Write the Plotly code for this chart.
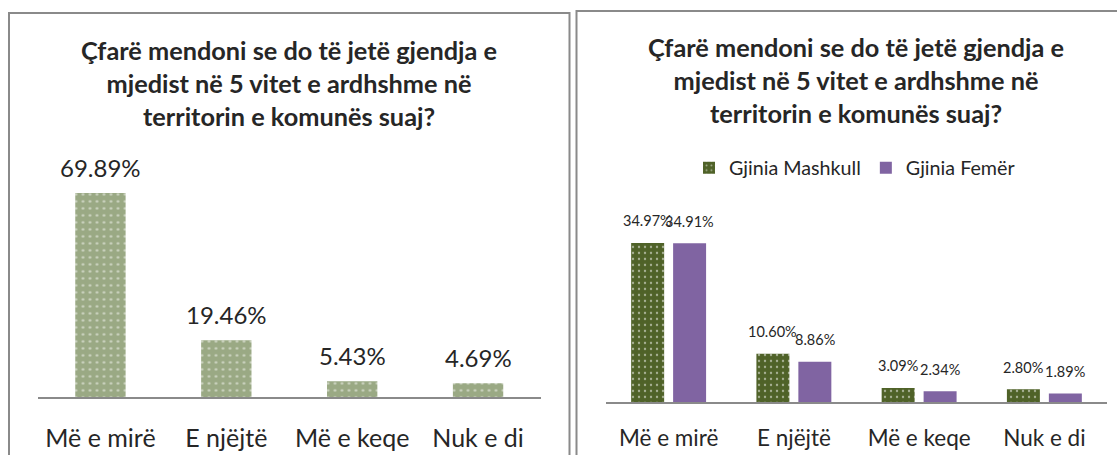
import plotly.graph_objects as go

# ---- data ----
categories = ["Më e mirë", "E njëjtë", "Më e keqe", "Nuk e di"]
total_values = [69.89, 19.46, 5.43, 4.69]
male_values = [34.97, 10.60, 3.09, 2.80]
female_values = [34.91, 8.86, 2.34, 1.89]
series_names = ["Gjinia Mashkull", "Gjinia Femër"]
title_lines = ["Çfarë mendoni se do të jetë gjendja e",
               "mjedist në 5 vitet e ardhshme në",
               "territorin e komunës suaj?"]

# ---- geometry helpers (pixel -> paper) ----
W, H = 1117, 455
def px(x):
    return x / W
def py(y):
    return 1 - y / H

FONT = "Lato, Carlito, Calibri, sans-serif"
TXT = "#262626"
LINE = "#8a8a8a"

fig = go.Figure()
fig.add_trace(go.Bar(
    x=categories, y=total_values, xaxis="x", yaxis="y", width=0.4,
    marker=dict(color="#9aa984", line=dict(width=0),
                pattern=dict(shape=".", fgcolor="#ffffff", size=7, solidity=0.12)),
    showlegend=False, hoverinfo="skip"))
fig.add_trace(go.Bar(
    x=categories, y=male_values, name=series_names[0], xaxis="x2", yaxis="y2",
    marker=dict(color="#4f6228", line=dict(width=0),
                pattern=dict(shape=".", fgcolor="#ffffff", size=6, solidity=0.12)),
    hoverinfo="skip"))
fig.add_trace(go.Bar(
    x=categories, y=female_values, name=series_names[1], xaxis="x2", yaxis="y2",
    marker=dict(color="#8064a2", line=dict(width=0)),
    hoverinfo="skip"))

annotations = []
# data labels, left chart
for c, v in zip(categories, total_values):
    annotations.append(dict(x=c, y=v, xref="x", yref="y", text=f"{v:.2f}%",
                            showarrow=False, yanchor="middle", yshift=26,
                            font=dict(family=FONT, size=24, color=TXT)))
# data labels, right chart
for vals, xs in ((male_values, -21), (female_values, 21)):
    for c, v in zip(categories, vals):
        annotations.append(dict(x=c, y=v, xref="x2", yref="y2", text=f"{v:.2f}%",
                                showarrow=False, yanchor="middle", yshift=22, xshift=xs,
                                font=dict(family=FONT, size=14.5, color=TXT)))
# titles
title_text = "<br>".join(title_lines)
annotations.append(dict(x=px(288.5), y=py(83), xref="paper", yref="paper",
                        text=f"<b>{title_text}</b>", showarrow=False,
                        xanchor="center", yanchor="middle", align="center",
                        font=dict(family=FONT, size=25.3, color=TXT)))
annotations.append(dict(x=px(856), y=py(80), xref="paper", yref="paper",
                        text=f"<b>{title_text}</b>", showarrow=False,
                        xanchor="center", yanchor="middle", align="center",
                        font=dict(family=FONT, size=25.3, color=TXT)))

shapes = [
    dict(type="rect", xref="paper", yref="paper", x0=px(9), x1=px(569.5),
         y0=-0.2, y1=py(13), line=dict(color=LINE, width=2), fillcolor="rgba(0,0,0,0)"),
    dict(type="rect", xref="paper", yref="paper", x0=px(576.5), x1=1.2,
         y0=-0.2, y1=py(11), line=dict(color=LINE, width=2), fillcolor="rgba(0,0,0,0)"),
]

axis_common = dict(type="category", showline=True, linecolor=LINE, linewidth=2,
                   ticks="", showgrid=False, zeroline=False)

fig.update_layout(
    width=W, height=H,
    margin=dict(l=0, r=0, t=0, b=0),
    paper_bgcolor="white", plot_bgcolor="rgba(0,0,0,0)",
    barmode="group", bargap=0.33, bargroupgap=0.214,
    font=dict(family=FONT, color=TXT),
    xaxis=dict(domain=[px(37.5), px(541)], anchor="y",
               tickfont=dict(size=25, color=TXT), ticklabelstandoff=18, **axis_common),
    yaxis=dict(domain=[py(397), py(148.9)], range=[0, 85], anchor="x", visible=False),
    xaxis2=dict(domain=[px(606), px(1107)], anchor="y2",
                tickfont=dict(size=22.5, color=TXT), ticklabelstandoff=15, **axis_common),
    yaxis2=dict(domain=[py(402), py(201.9)], range=[0, 44], anchor="x2", visible=False),
    legend=dict(orientation="h", x=px(855), xanchor="center", y=py(168), yanchor="middle",
                font=dict(family=FONT, size=19.7, color=TXT), bgcolor="rgba(0,0,0,0)",
                itemwidth=30, tracegroupgap=0),
    annotations=annotations,
    shapes=shapes,
    showlegend=True,
)

fig.write_html("out.html",
               config={"displayModeBar": False, "staticPlot": True},
               post_script="document.body.style.margin='0';document.body.style.overflow='hidden';")
